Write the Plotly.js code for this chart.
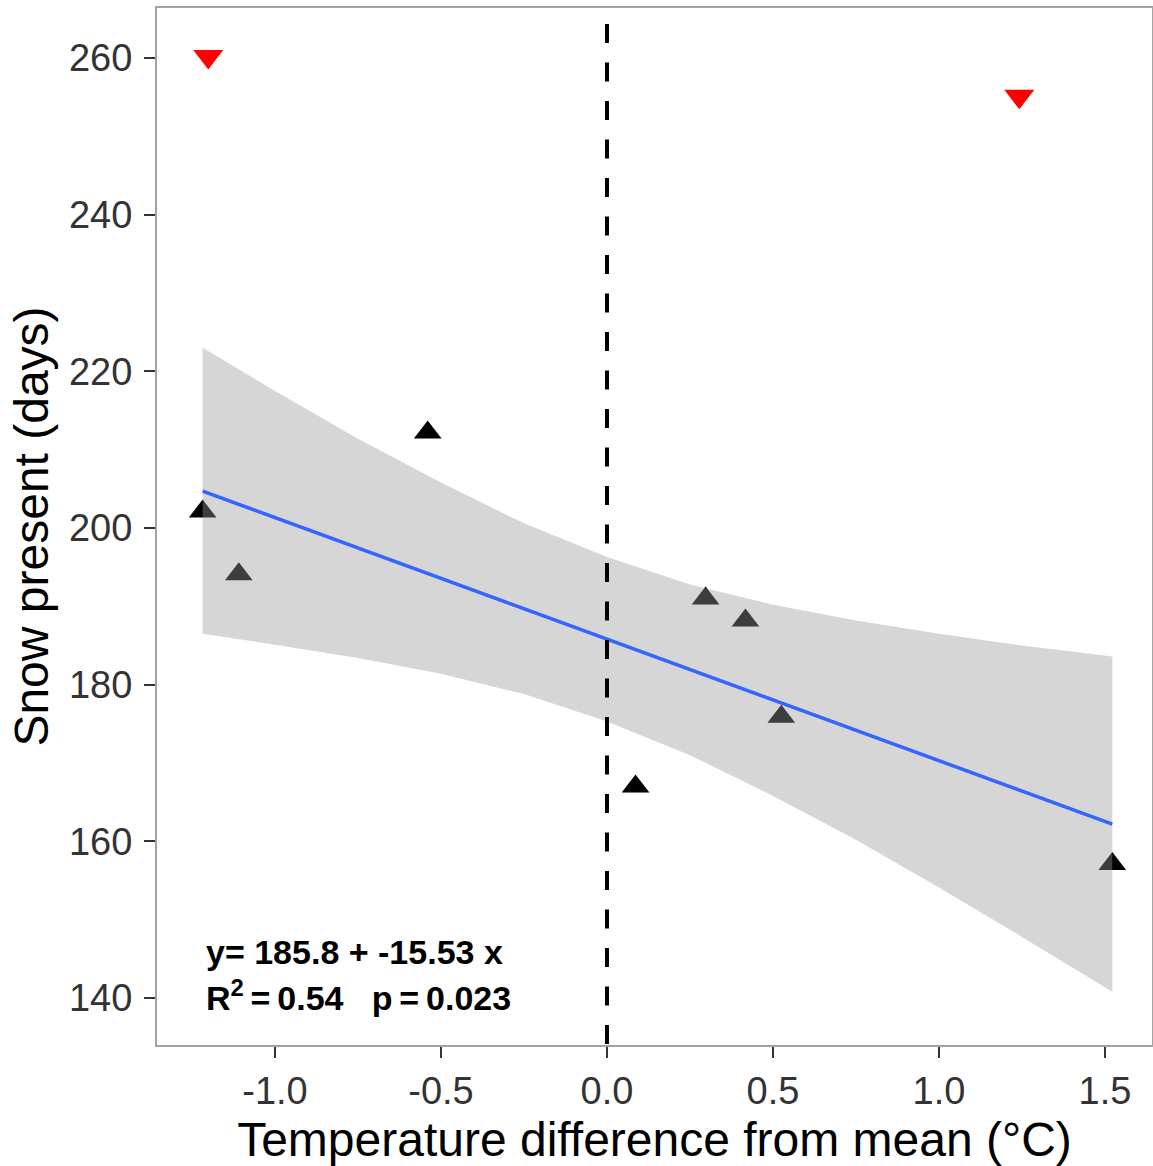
<!DOCTYPE html>
<html>
<head>
<meta charset="utf-8">
<script src="https://cdn.plot.ly/plotly-3.0.1.min.js"></script>
<style>html,body{margin:0;padding:0;background:#fff;}#chart{width:1153px;height:1166px;}</style>
</head>
<body>
<div id="chart"></div>
<script>
// Observed points (black triangles)
const tempDiff = [-1.218, -1.109, -0.540, 0.086, 0.297, 0.417, 0.525, 1.522];
const snowDays = [202.1, 194.1, 212.2, 167.0, 191.0, 188.2, 175.9, 157.1];

// Excluded points (red down triangles)
const outTemp = [-1.201, 1.242];
const outSnow = [260.2, 255.1];

// Fitted regression line (ends)
const fitX = [-1.218, 1.522];
const fitY = [204.7, 162.2];

// Confidence band
const bandX     = [-1.218, -1.0, -0.75, -0.5, -0.25, 0.0, 0.25, 0.5, 0.75, 1.0, 1.25, 1.522];
const bandUpper = [223.0, 217.5, 211.4, 205.8, 200.6, 196.3, 192.8, 190.2, 188.2, 186.5, 185.0, 183.6];
const bandLower = [186.5, 185.1, 183.4, 181.4, 178.8, 175.3, 171.0, 165.8, 160.2, 154.1, 147.8, 140.8];

const xTickVals = [-1.0, -0.5, 0.0, 0.5, 1.0, 1.5];
const xTickText = ['-1.0', '-0.5', '0.0', '0.5', '1.0', '1.5'];
const yTickVals = [140, 160, 180, 200, 220, 240, 260];
const yTickText = ['140', '160', '180', '200', '220', '240', '260'];

const eqLine1 = 'y= 185.8 + -15.53 x';
const eqLine2 = 'R<sup>2</sup>\u2009=\u20090.54 \u00a0 p\u2009=\u20090.023';

const FONT = '"Liberation Sans", Arial, "DejaVu Sans", sans-serif';

const traces = [
  {
    x: tempDiff, y: snowDays, type: 'scatter', mode: 'markers',
    marker: {symbol: 'triangle-up', size: 24, color: '#000000', line: {width: 0}},
    hoverinfo: 'skip', showlegend: false
  },
  {
    x: bandX.concat(bandX.slice().reverse()),
    y: bandUpper.concat(bandLower.slice().reverse()),
    type: 'scatter', mode: 'lines', fill: 'toself',
    fillcolor: 'rgba(153,153,153,0.4)', line: {width: 0},
    hoverinfo: 'skip', showlegend: false
  },
  {
    x: fitX, y: fitY, type: 'scatter', mode: 'lines',
    line: {color: '#3366FF', width: 3.5},
    hoverinfo: 'skip', showlegend: false
  },
  {
    x: outTemp, y: outSnow, type: 'scatter', mode: 'markers',
    marker: {symbol: 'triangle-down', size: 26, color: '#FF0000', line: {width: 0}},
    hoverinfo: 'skip', showlegend: false
  }
];

const layout = {
  width: 1153, height: 1166,
  margin: {l: 157, r: 1, t: 8, b: 121},
  paper_bgcolor: '#ffffff', plot_bgcolor: '#ffffff',
  font: {family: FONT, color: '#000'},
  showlegend: false,
  xaxis: {
    range: [-1.3554, 1.6416], tickmode: 'array',
    tickvals: xTickVals, ticktext: xTickText,
    showgrid: false, zeroline: false,
    showline: true, mirror: true, linecolor: '#a3a3a3', linewidth: 2,
    ticks: 'outside', ticklen: 11, tickwidth: 2, tickcolor: '#333333',
    tickfont: {family: FONT, size: 38, color: '#333333'},
    ticklabelstandoff: 0,
    title: {text: 'Temperature difference from mean (°C)', font: {family: FONT, size: 48, color: '#000'}, standoff: 14}
  },
  yaxis: {
    range: [134.0, 266.38], tickmode: 'array',
    tickvals: yTickVals, ticktext: yTickText,
    showgrid: false, zeroline: false,
    showline: true, mirror: true, linecolor: '#a3a3a3', linewidth: 2,
    ticks: 'outside', ticklen: 11, tickwidth: 2, tickcolor: '#333333',
    tickfont: {family: FONT, size: 38, color: '#333333'},
    ticklabelstandoff: 4,
    title: {text: 'Snow present (days)', font: {family: FONT, size: 48, color: '#000'}, standoff: 5}
  },
  shapes: [
    {type: 'line', xref: 'x', yref: 'paper', x0: 0, x1: 0, y0: 0.9846, y1: 0,
     line: {color: '#000000', width: 4, dash: '19px,19.5px'}, layer: 'above'}
  ],
  annotations: [
    {xref: 'paper', yref: 'paper', x: 0.0475, y: 0.069, xanchor: 'left', yanchor: 'bottom',
     text: '<b>' + eqLine1 + '</b>', showarrow: false,
     font: {family: FONT, size: 34, color: '#000'}},
    {xref: 'paper', yref: 'paper', x: 0.0475, y: 0.0254, xanchor: 'left', yanchor: 'bottom',
     text: '<b>' + eqLine2 + '</b>', showarrow: false,
     font: {family: FONT, size: 34, color: '#000'}}
  ]
};

Plotly.newPlot('chart', traces, layout, {displayModeBar: false, staticPlot: true});
</script>
</body>
</html>
